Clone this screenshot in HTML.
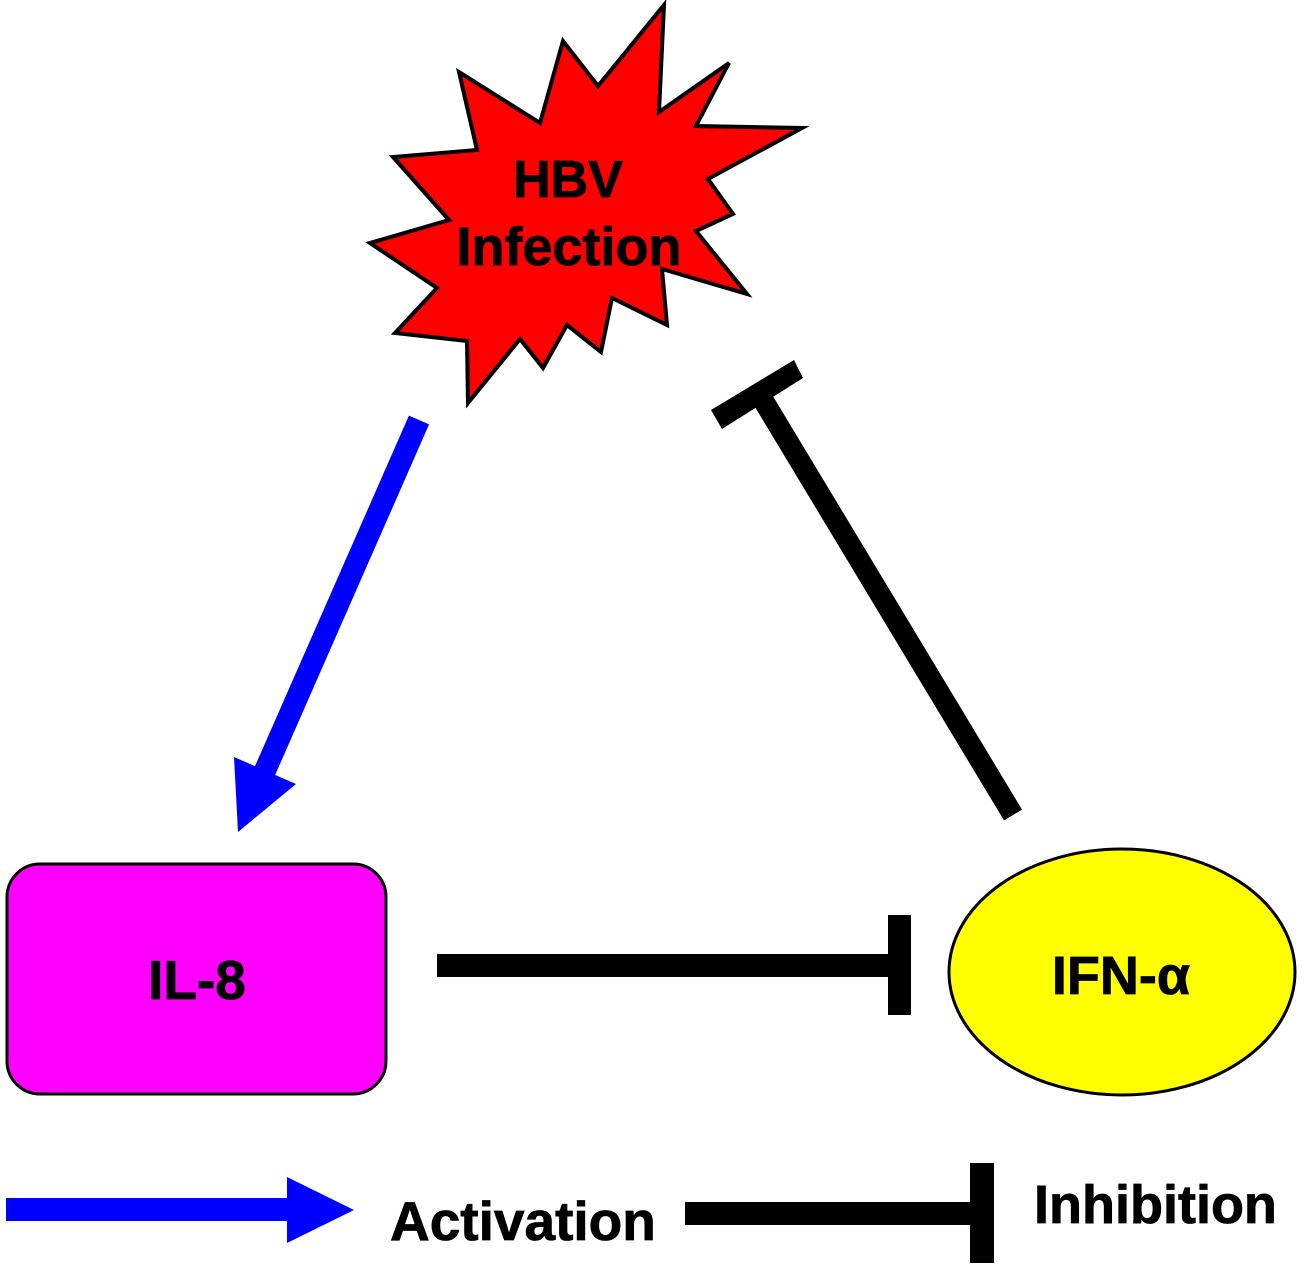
<!DOCTYPE html>
<html><head><meta charset="utf-8"><style>
html,body{margin:0;padding:0;background:#fff;}
svg{display:block;}
text{font-family:"Liberation Sans",Arial,sans-serif;font-weight:bold;fill:#000;}
</style></head><body>
<svg width="1306" height="1268" viewBox="0 0 1306 1268" xmlns="http://www.w3.org/2000/svg">
<polygon points="664,5 659,112 729,63 696,126 802,128 708,179 733,214 696,231 747,294 662,269 667,325 612,298 601,352 567,325 543,368 520,339 468,403 467,341 395,333 437,288 370,243 449,220 393,157 477,150 459,72 540,123 563,41 598,86" fill="#ff0000" stroke="#000" stroke-width="4" stroke-linejoin="miter"/>
<text x="568" y="197" font-size="52" text-anchor="middle" stroke="#000" stroke-width="0.8">HBV</text>
<text x="569" y="265" font-size="54" text-anchor="middle" stroke="#000" stroke-width="0.8">Infection</text>
<line x1="419" y1="420" x2="264" y2="773" stroke="#0000ff" stroke-width="22"/>
<polygon points="238,832 234,757 296,784" fill="#0000ff"/>
<line x1="757" y1="390" x2="1013" y2="815" stroke="#000" stroke-width="21"/>
<polygon points="711,410 794,360 803,378 722,429" fill="#000"/>
<rect x="7" y="864" width="379" height="230" rx="33" ry="33" fill="#ff00ff" stroke="#000" stroke-width="3"/>
<text x="197" y="999" font-size="55" text-anchor="middle" stroke="#000" stroke-width="0.8">IL-8</text>
<rect x="437" y="954" width="453" height="23" fill="#000"/>
<rect x="888" y="915" width="23" height="100" fill="#000"/>
<ellipse cx="1122" cy="972" rx="173" ry="123" fill="#ffff00" stroke="#000" stroke-width="3"/>
<text x="1121" y="994" font-size="54" text-anchor="middle" stroke="#000" stroke-width="0.8">IFN-α</text>
<rect x="6" y="1198" width="284" height="23" fill="#0000ff"/>
<polygon points="287,1177 354,1210 287,1243" fill="#0000ff"/>
<text x="390" y="1240" font-size="55" stroke="#000" stroke-width="0.8">Activation</text>
<rect x="685" y="1202" width="292" height="23" fill="#000"/>
<rect x="970" y="1163" width="24" height="100" fill="#000"/>
<text x="1034" y="1223" font-size="54" stroke="#000" stroke-width="0.8">Inhibition</text>
</svg>
</body></html>
